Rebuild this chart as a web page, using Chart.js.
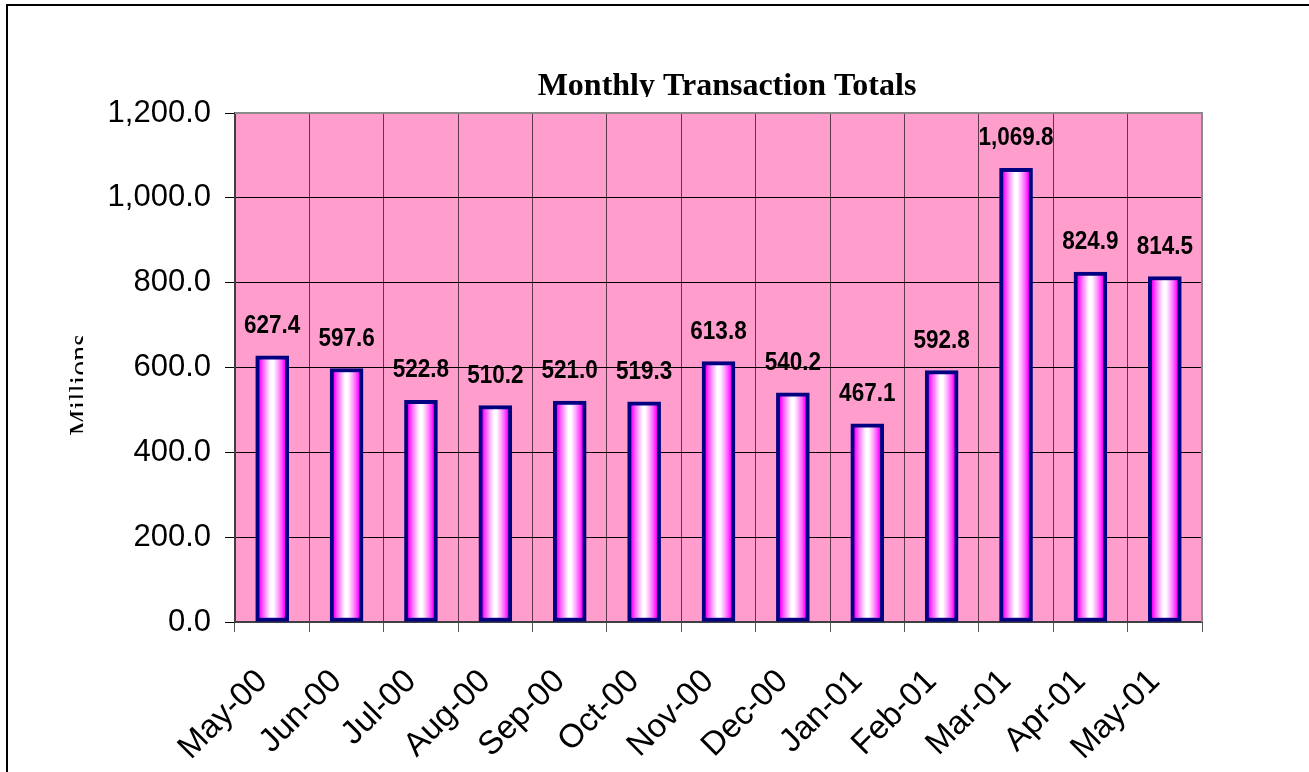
<!DOCTYPE html>
<html>
<head>
<meta charset="utf-8">
<script src="https://cdn.jsdelivr.net/npm/chart.js@4/dist/chart.umd.min.js"></script>
<style>
html,body{margin:0;padding:0;background:#fff;}
canvas{display:block;}
</style>
</head>
<body>
<canvas id="c" width="1309" height="772"></canvas>
<script>
const categories = ['May-00','Jun-00','Jul-00','Aug-00','Sep-00','Oct-00','Nov-00','Dec-00','Jan-01','Feb-01','Mar-01','Apr-01','May-01'];
const totals = [627.4, 597.6, 522.8, 510.2, 521.0, 519.3, 613.8, 540.2, 467.1, 592.8, 1069.8, 824.9, 814.5];
const yTicks = [0, 200, 400, 600, 800, 1000, 1200];
const titleText = 'Monthly Transaction Totals';
const yTitleText = 'Millions';

const BAR_W = 33;
const fmt = v => v.toLocaleString('en-US', {minimumFractionDigits: 1, maximumFractionDigits: 1});

function barGradient(ctx) {
  const chart = ctx.chart;
  const xs = chart.scales && chart.scales.x;
  if (!xs || ctx.dataIndex === undefined || !isFinite(xs.getPixelForValue(ctx.dataIndex))) return '#ffccff';
  const cx = xs.getPixelForValue(ctx.dataIndex);
  const g = chart.ctx.createLinearGradient(cx - BAR_W / 2 + 4, 0, cx + BAR_W / 2 - 4, 0);
  g.addColorStop(0, '#ff00ff');
  g.addColorStop(0.12, '#ff55ff');
  g.addColorStop(0.28, '#ffb0ff');
  g.addColorStop(0.45, '#ffffff');
  g.addColorStop(0.55, '#ffffff');
  g.addColorStop(0.72, '#ffb0ff');
  g.addColorStop(0.88, '#ff55ff');
  g.addColorStop(1, '#ff00ff');
  return g;
}

const decor = {
  id: 'decor',
  beforeDraw(chart) {
    const c = chart.ctx, a = chart.chartArea;
    c.save();
    c.fillStyle = '#ffffff';
    c.fillRect(0, 0, chart.width, chart.height);
    c.strokeStyle = '#000000';
    c.lineWidth = 2;
    c.strokeRect(7, 5, 1400, 1000);
    c.fillStyle = '#ff9ecc';
    c.fillRect(a.left, a.top, a.right - a.left, a.bottom - a.top);
    c.restore();
  },
  afterDatasetsDraw(chart) {
    const c = chart.ctx;
    const meta = chart.getDatasetMeta(0);
    c.save();
    c.fillStyle = '#000000';
    c.font = 'bold 25px "Liberation Sans", Arial, sans-serif';
    c.textAlign = 'center';
    c.textBaseline = 'alphabetic';
    meta.data.forEach((bar, i) => {
      c.save();
      c.translate(bar.x, bar.y - 23);
      c.scale(0.9, 1);
      c.fillText(fmt(totals[i]), 0, 0);
      c.restore();
    });
    c.restore();
  },
  afterDraw(chart) {
    const c = chart.ctx, a = chart.chartArea;
    c.save();
    c.strokeStyle = '#8a8a8a';
    c.lineWidth = 2;
    c.beginPath();
    c.moveTo(a.left, a.top);
    c.lineTo(a.right, a.top);
    c.lineTo(a.right, a.bottom);
    c.stroke();
    c.save();
    c.beginPath();
    c.rect(0, 0, chart.width, 97);
    c.clip();
    c.fillStyle = '#000';
    c.font = 'bold 32px "Liberation Serif", "Times New Roman", serif';
    c.textAlign = 'center';
    c.textBaseline = 'alphabetic';
    c.fillText(titleText, 727, 95);
    c.restore();
    c.save();
    c.beginPath();
    c.rect(0, 0, 83, chart.height);
    c.clip();
    c.translate(89, 385);
    c.rotate(-Math.PI / 2);
    c.fillStyle = '#000';
    c.font = '30px "Liberation Serif", "Times New Roman", serif';
    c.textAlign = 'center';
    c.textBaseline = 'alphabetic';
    c.fillText(yTitleText, 0, 0);
    c.restore();
    c.restore();
  }
};

new Chart(document.getElementById('c'), {
  type: 'bar',
  data: {
    labels: categories,
    datasets: [{
      data: totals,
      backgroundColor: barGradient,
      borderColor: '#000080',
      borderWidth: 4,
      borderSkipped: false,
      barThickness: BAR_W
    }]
  },
  options: {
    responsive: false,
    animation: false,
    layout: {padding: {top: 113, right: 107, left: 0, bottom: 0}},
    plugins: {legend: {display: false}, tooltip: {enabled: false}, title: {display: false}},
    scales: {
      x: {
        offset: true,
        afterFit(s) { s.height = 150; },
        grid: {offset: true, color: 'rgba(40,20,30,0.75)', lineWidth: 1, tickLength: 10, tickColor: '#555555', drawTicks: true},
        border: {display: true, color: '#404040', width: 2},
        ticks: {
          autoSkip: false, minRotation: 45, maxRotation: 45, padding: 30, labelOffset: -10,
          color: '#000', font: {family: '"Liberation Sans", Arial, sans-serif', size: 33}
        }
      },
      y: {
        min: 0, max: 1200,
        afterFit(s) { s.width = 235; },
        afterBuildTicks(s) { s.ticks = yTicks.map(v => ({value: v})); },
        grid: {color: '#000000', lineWidth: 1, tickLength: 10, tickColor: '#000000'},
        border: {display: true, color: '#404040', width: 2},
        ticks: {
          padding: 14, color: '#000',
          font: {family: '"Liberation Sans", Arial, sans-serif', size: 31},
          callback: v => fmt(v)
        }
      }
    }
  },
  plugins: [decor]
});
</script>
</body>
</html>
